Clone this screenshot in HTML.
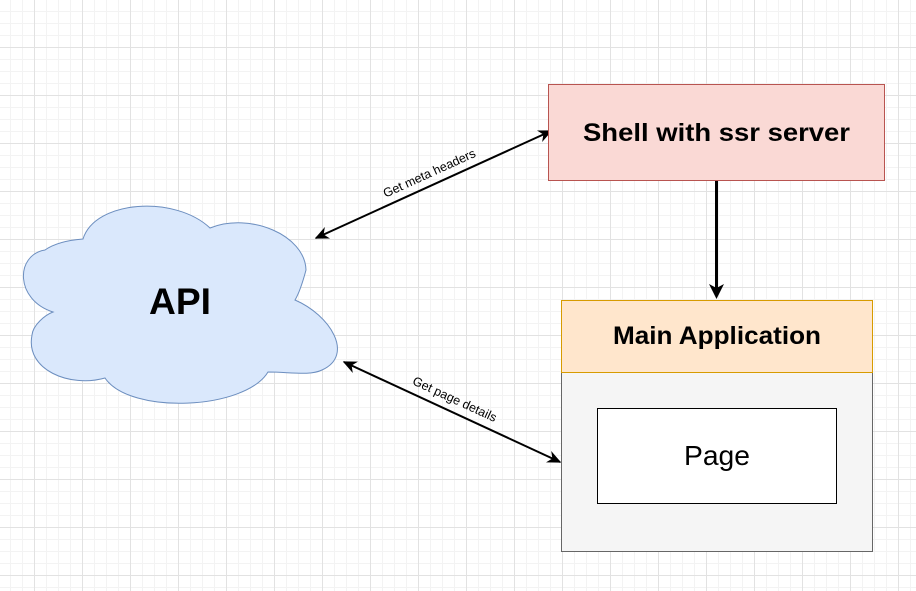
<!DOCTYPE html>
<html><head><meta charset="utf-8"><style>
html,body{margin:0;padding:0;background:#fff}
svg{display:block}
</style></head><body>
<svg width="916" height="591" xmlns="http://www.w3.org/2000/svg" font-family="Liberation Sans, Arial, sans-serif">
<defs>
<pattern id="mn" width="12" height="12" patternUnits="userSpaceOnUse" x="10" y="11">
<path d="M0 0.5H12M0.5 0V12" stroke="#f3f3f3" stroke-width="1" fill="none"/>
</pattern>
<pattern id="mj" width="48" height="48" patternUnits="userSpaceOnUse" x="34" y="47">
<path d="M0 0.5H48M0.5 0V48" stroke="#e2e2e2" stroke-width="1" fill="none"/>
</pattern>
<marker id="ah" viewBox="0 0 10 10" refX="9" refY="5" markerWidth="14" markerHeight="14" orient="auto-start-reverse" markerUnits="userSpaceOnUse">
<path d="M0 0.5L10 5L0 9.5L3 5Z" fill="#000"/>
</marker>
</defs>
<rect width="916" height="591" fill="url(#mn)"/>
<rect width="916" height="591" fill="url(#mj)"/>

<path d="M83 239 C95 200 175 195 210 228 C250 212 305 235 306 270 C302 285 298 295 295 300 C330 315 355 355 322 370 C310 376 290 372 268 372 C245 410 130 415 105 378 C70 388 25 370 32 335 C33 325 45 315 53 312 C15 300 15 255 45 250 C55 243 70 240 83 239 Z" fill="#dae8fc" stroke="#6c8ebf" stroke-width="1"/>
<text x="180" y="314" font-size="37" font-weight="bold" text-anchor="middle" textLength="62" lengthAdjust="spacingAndGlyphs">API</text>

<line x1="316" y1="238" x2="551" y2="131" stroke="#000" stroke-width="2" marker-start="url(#ah)" marker-end="url(#ah)"/>
<text x="0" y="0" font-size="12.5" text-anchor="middle" transform="translate(431,177) rotate(-24.5)">Get meta headers</text>
<line x1="344" y1="362" x2="560" y2="462" stroke="#000" stroke-width="2" marker-start="url(#ah)" marker-end="url(#ah)"/>
<text x="0" y="0" font-size="12.5" text-anchor="middle" transform="translate(453,403) rotate(24.8)">Get page details</text>

<rect x="548.5" y="84.5" width="336" height="96" fill="#fad9d5" stroke="#b85450"/>
<text x="716.5" y="141" font-size="25" font-weight="bold" text-anchor="middle" textLength="267" lengthAdjust="spacingAndGlyphs">Shell with ssr server</text>

<line x1="716.5" y1="181" x2="716.5" y2="290" stroke="#000" stroke-width="3"/>
<path d="M709 284 L716.5 299 L724 284 L716.5 288 Z" fill="#000"/>

<rect x="561.5" y="372.5" width="311" height="179" fill="#f5f5f5" stroke="#666"/>
<rect x="561.5" y="300.5" width="311" height="72" fill="#ffe6cc" stroke="#d79b00"/>
<text x="717" y="344" font-size="25" font-weight="bold" text-anchor="middle" textLength="208" lengthAdjust="spacingAndGlyphs">Main Application</text>
<rect x="597.5" y="408.5" width="239" height="95" fill="#fff" stroke="#000"/>
<text x="717" y="465" font-size="28" text-anchor="middle" textLength="66" lengthAdjust="spacingAndGlyphs">Page</text>
</svg>
</body></html>
